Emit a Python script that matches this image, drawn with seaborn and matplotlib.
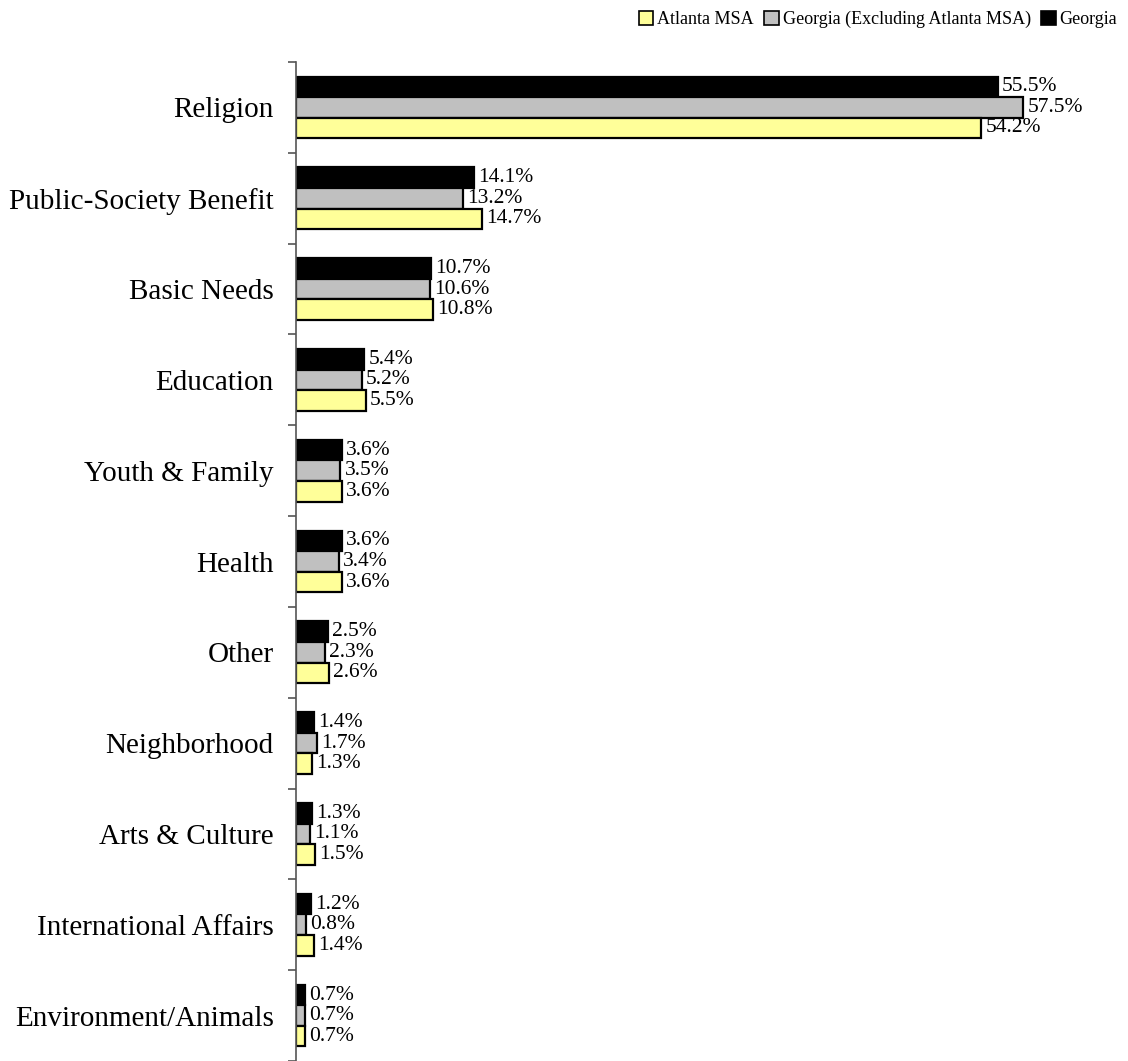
import matplotlib
matplotlib.use("Agg")
import matplotlib.pyplot as plt
from matplotlib.patches import Patch
import seaborn as sns
import pandas as pd
import numpy as np

categories = ["Religion", "Public-Society Benefit", "Basic Needs", "Education",
              "Youth & Family", "Health", "Other", "Neighborhood",
              "Arts & Culture", "International Affairs", "Environment/Animals"]
georgia = [55.5, 14.1, 10.7, 5.4, 3.6, 3.6, 2.5, 1.4, 1.3, 1.2, 0.7]
georgia_excl = [57.5, 13.2, 10.6, 5.2, 3.5, 3.4, 2.3, 1.7, 1.1, 0.8, 0.7]
atlanta = [54.2, 14.7, 10.8, 5.5, 3.6, 3.6, 2.6, 1.3, 1.5, 1.4, 0.7]
series_names = ["Georgia", "Georgia (Excluding Atlanta MSA)", "Atlanta MSA"]
colors = {"Georgia": "#000000", "Georgia (Excluding Atlanta MSA)": "#C0C0C0",
          "Atlanta MSA": "#FFFF99"}

rows = []
for name, vals in zip(series_names, [georgia, georgia_excl, atlanta]):
    for c, v in zip(categories, vals):
        rows.append({"Category": c, "Series": name, "Value": v})
df = pd.DataFrame(rows)

sns.set_style("white")
plt.rcParams['font.family'] = ['Liberation Serif', 'DejaVu Serif']
plt.rcParams['text.color'] = 'black'
plt.rcParams['ytick.labelcolor'] = 'black'

fig = plt.figure(figsize=(11.28, 10.61), dpi=100)
ax = fig.add_axes([296/1128, 0.0, (1118-296)/1128, 1 - 62/1061])

sns.barplot(data=df, y="Category", x="Value", hue="Series", order=categories,
            hue_order=series_names, palette=colors, orient="h", width=0.68,
            saturation=1, edgecolor="black", linewidth=1.6, ax=ax,
            legend=False, errorbar=None)

for cont in ax.containers:
    ax.bar_label(cont, fmt="%.1f%%", padding=3, fontsize=15.5, color="black")

ax.set_xlim(0, 65)
ax.set_ylim(len(categories) - 0.5, -0.5)
ax.set_xlabel("")
ax.set_ylabel("")
ax.set_xticks([])
for s in ["top", "right", "bottom"]:
    ax.spines[s].set_visible(False)
ax.spines["left"].set_color("#555555")
ax.spines["left"].set_linewidth(1.2)

ax.set_yticks(np.arange(len(categories)))
ax.set_yticklabels(categories, fontsize=21, color="black")
ax.tick_params(axis="y", which="major", left=False, length=0, pad=16)
ax.set_yticks(np.arange(len(categories) + 1) - 0.5, minor=True)
ax.tick_params(axis="y", which="minor", left=True, length=6, width=1.2,
               color="#555555", direction="out")

handles = [Patch(facecolor=colors[n], edgecolor="black", linewidth=1.2)
           for n in ["Atlanta MSA", "Georgia (Excluding Atlanta MSA)", "Georgia"]]
fig.legend(handles, ["Atlanta MSA", "Georgia (Excluding Atlanta MSA)", "Georgia"],
           loc="upper right", bbox_to_anchor=(1.0, 1.0), ncol=3, frameon=False,
           fontsize=13, handlelength=0.8, handleheight=0.8, handletextpad=0.2,
           columnspacing=0.6, borderaxespad=0.2)

fig.savefig("out.png", dpi=100)
